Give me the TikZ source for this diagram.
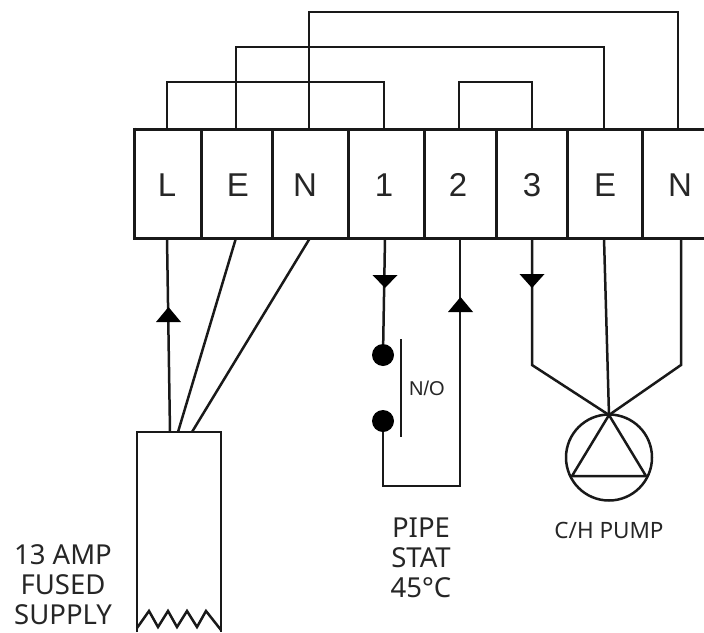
\documentclass[tikz,border=0pt]{standalone}
\usepackage{fontspec}
\setmainfont{Liberation Sans}
\newfontfamily\tahomaish{Noto Sans}
\tikzset{
  wire/.style={draw=black!90,line width=2.5pt,line join=miter},
  thickline/.style={draw=black!90,line width=3pt},
  term/.style={inner sep=0pt,font=\fontsize{33}{33}\selectfont,text=black!85},
  lab/.style={inner sep=0pt,align=center,font=\tahomaish\fontsize{27.5}{30}\selectfont,text=black!85},
  tip/.style={fill=black,draw=none},
  dot/.style={circle,fill=black,draw=none,minimum size=22pt,inner sep=0pt}
}
\begin{document}
\begin{tikzpicture}[x=1pt,y=-1pt]
\useasboundingbox (0,0) rectangle (704,632);
% terminal block
\draw[thickline] (134,129) -- (704,129);
\draw[thickline] (134,238) -- (704,238);
\draw[thickline] (134,127.5) -- (134,239.5);
\foreach \x in {201,272,348,424,496,567,642}{\draw[thickline] (\x,129) -- (\x,238);}
\node[term] (tL) at (167,185) {L};
\node[term] (tE) at (238,185) {E};
\node[term] (tN) at (305,185) {N};
\node[term] (t1) at (384,185) {1};
\node[term] (t2) at (458,185) {2};
\node[term] (t3) at (532,185) {3};
\node[term] (tE2) at (605,185) {E};
\node[term] (tN2) at (680,185) {N};
% top coordinates
\coordinate (aL) at (167,129); \coordinate (aE) at (236,129); \coordinate (aN) at (309,129);
\coordinate (a1) at (384,129); \coordinate (a2) at (459,129); \coordinate (a3) at (532,129);
\coordinate (aE2) at (604,129); \coordinate (aN2) at (678,129);
\draw[wire] (aL) |- (a1 |- 0,82) -- (a1);
\draw[wire] (a2) |- (a3 |- 0,82) -- (a3);
\draw[wire] (aE) |- (aE2 |- 0,47) -- (aE2);
\draw[wire] (aN) |- (aN2 |- 0,12) -- (aN2);
% bottom coordinates
\coordinate (bL) at (167,238); \coordinate (bE) at (236,238); \coordinate (bN) at (310,238);
\coordinate (b1) at (385,238); \coordinate (b2) at (460,238); \coordinate (b3) at (532,238);
\coordinate (bE2) at (604,238); \coordinate (bN2) at (681,238);
% supply
\coordinate (sL) at (170,432); \coordinate (sE) at (178,432); \coordinate (sN) at (192,432);
\draw[wire] (137,632) -- (137,432) -- (221,432) -- (221,632);
\draw[wire] (137,628) -- (149,611) -- (158,627) -- (168,611) -- (177,627) -- (187,611) -- (197,627) -- (206,611) -- (221,630);
\draw[wire] (bL) -- (sL);
\draw[wire] (bE) -- (sE);
\draw[wire] (bN) -- (sN);
\fill[tip] (156,322) -- (181,322) -- (168.5,307) -- cycle;
% pipe stat
\node[dot] (d1) at (383,355) {};
\node[dot] (d2) at (383,421) {};
\coordinate (corner1) at (383,486);
\coordinate (corner2) at (460,486);
\draw[wire] (b1) -- (d1);
\draw[wire] (d2) -- (corner1) -- (corner2) -- (b2);
\fill[tip] (372.5,275) -- (397.5,275) -- (385,288) -- cycle;
\fill[tip] (448,312) -- (473,312) -- (460.5,297) -- cycle;
\draw[line width=2pt,draw=black!90] (401,339) -- (401,437);
\node[inner sep=0pt,font=\fontsize{20}{20}\selectfont,text=black!85] (no) at (427,388) {N/O};
% pump
\node[circle,draw=black!90,line width=2.5pt,minimum size=86pt,inner sep=0pt] (pump) at (609,457.5) {};
\coordinate (apex) at (609,415);
\coordinate (tl) at (572,476);
\coordinate (tr) at (646,476);
\draw[wire] (tl) -- (apex) -- (tr) -- cycle;
\draw[wire] (b3) -- (532,365) -- (apex);
\draw[wire] (bE2) -- (apex);
\draw[wire] (bN2) -- (681,365) -- (apex);
\fill[tip] (519.5,274) -- (544.5,274) -- (532,288) -- cycle;
% labels
\node[lab] (supply) at (63,585) {13 AMP\\FUSED\\SUPPLY};
\node[lab] (stat) at (421,558) {PIPE\\STAT\\45\textdegree C};
\node[lab,font=\tahomaish\fontsize{22.5}{24}\selectfont] (pumplab) at (609,530) {C/H PUMP};
\end{tikzpicture}
\end{document}
